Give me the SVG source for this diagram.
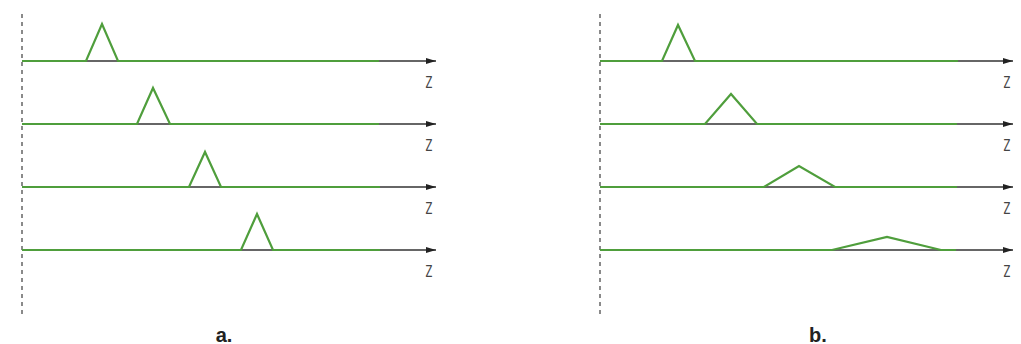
<svg xmlns="http://www.w3.org/2000/svg" width="1021" height="344" viewBox="0 0 1021 344">
<defs>
<marker id="arr" viewBox="0 0 10 10" refX="10" refY="5" markerWidth="10" markerHeight="6" markerUnits="userSpaceOnUse" orient="auto" preserveAspectRatio="none">
<path d="M0,0 L10,5 L0,10 Z" fill="#222"/>
</marker>
</defs>
<style>
.dash{stroke:#8a8a8a;stroke-width:2;stroke-dasharray:4 4;fill:none}
.axis{stroke:#333;stroke-width:1.5;fill:none;marker-end:url(#arr)}
.pulse{stroke:#4f9e3c;stroke-width:2.2;fill:none;stroke-linejoin:miter}
.z{font-family:"DejaVu Sans Condensed","Liberation Sans",sans-serif;font-size:16px;fill:#444}
.lbl{font-family:"Liberation Sans",Arial,sans-serif;font-size:20px;font-weight:bold;fill:#222}
</style>
<rect width="1021" height="344" fill="#fff"/>
<g id="connectors">
<line class="dash" x1="22" y1="14" x2="22" y2="314"/>
<line class="dash" x1="600" y1="14" x2="600" y2="314"/>
<line class="axis" x1="22" y1="61" x2="436" y2="61"/>
<line class="axis" x1="22" y1="124" x2="436" y2="124"/>
<line class="axis" x1="22" y1="187" x2="436" y2="187"/>
<line class="axis" x1="22" y1="250" x2="436" y2="250"/>
<line class="axis" x1="600" y1="61" x2="1013" y2="61"/>
<line class="axis" x1="600" y1="124" x2="1013" y2="124"/>
<line class="axis" x1="600" y1="187" x2="1013" y2="187"/>
<line class="axis" x1="600" y1="250" x2="1013" y2="250"/>
</g>
<g id="pulse-a1"><polyline class="pulse" points="22,61 86,61 102,24 118,61 379,61"/></g>
<g id="pulse-a2"><polyline class="pulse" points="22,124 137,124 153,88 170,124 379,124"/></g>
<g id="pulse-a3"><polyline class="pulse" points="22,187 189,187 205,152 221,187 380,187"/></g>
<g id="pulse-a4"><polyline class="pulse" points="22,250 241,250 257,214 273,250 380,250"/></g>
<g id="pulse-b1"><polyline class="pulse" points="600,61 662,61 678,25 695,61 958,61"/></g>
<g id="pulse-b2"><polyline class="pulse" points="600,124 705,124 731,94 757,124 957,124"/></g>
<g id="pulse-b3"><polyline class="pulse" points="600,187 764,187 799,166 835,187 957,187"/></g>
<g id="pulse-b4"><polyline class="pulse" points="600,250 832,250 887,237 941,250 956,250"/></g>
<g id="labels">
<text class="z" text-anchor="middle" transform="translate(429,88) scale(0.7,1)">Z</text>
<text class="z" text-anchor="middle" transform="translate(429,151) scale(0.7,1)">Z</text>
<text class="z" text-anchor="middle" transform="translate(429,214) scale(0.7,1)">Z</text>
<text class="z" text-anchor="middle" transform="translate(429,277) scale(0.7,1)">Z</text>
<text class="z" text-anchor="middle" transform="translate(1007,88) scale(0.7,1)">Z</text>
<text class="z" text-anchor="middle" transform="translate(1007,151) scale(0.7,1)">Z</text>
<text class="z" text-anchor="middle" transform="translate(1007,214) scale(0.7,1)">Z</text>
<text class="z" text-anchor="middle" transform="translate(1007,277) scale(0.7,1)">Z</text>
<text class="lbl" x="224" y="342" text-anchor="middle">a.</text>
<text class="lbl" x="818" y="342" text-anchor="middle">b.</text>
</g>
</svg>
